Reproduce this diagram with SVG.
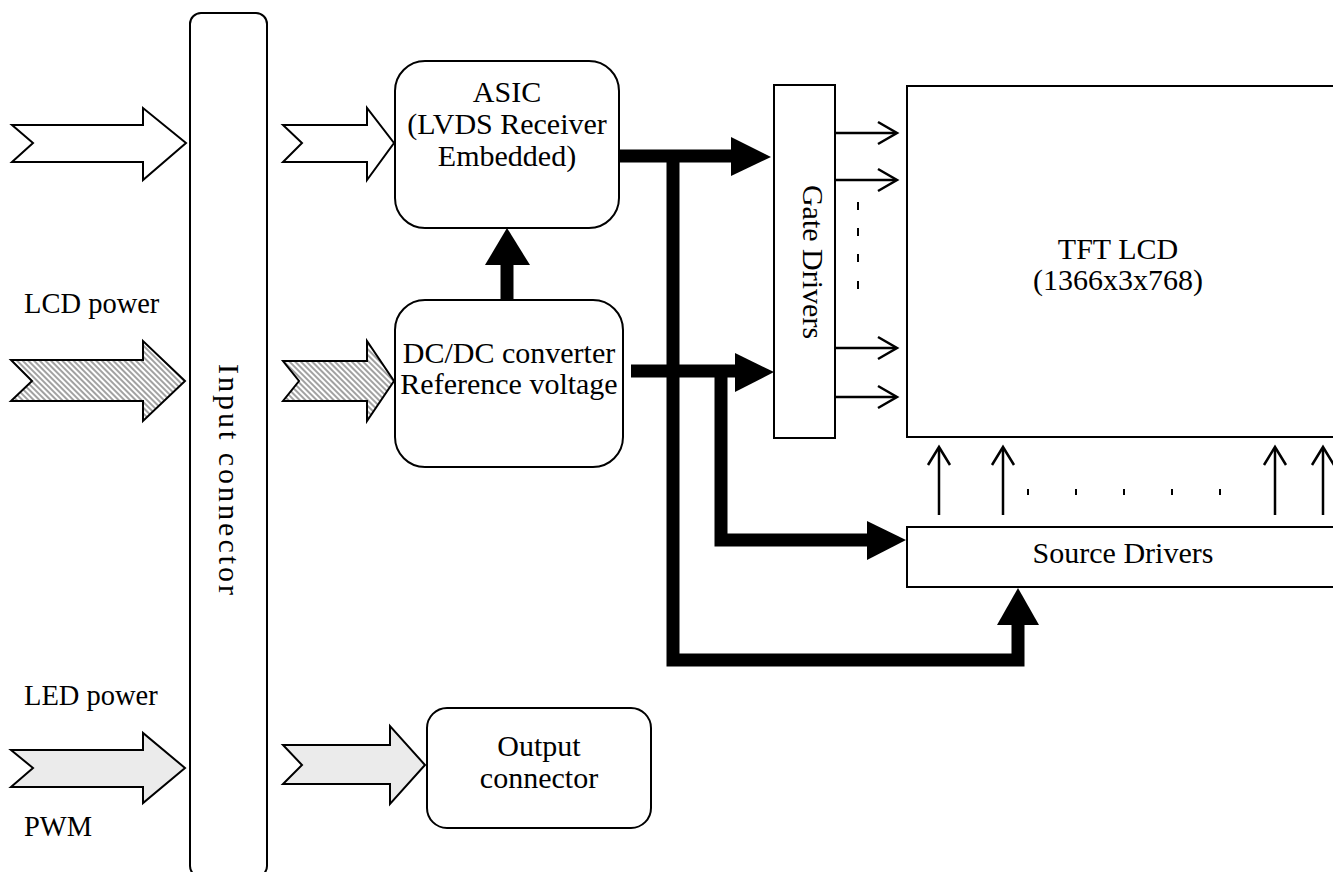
<svg xmlns="http://www.w3.org/2000/svg" width="1333" height="872" viewBox="0 0 1333 872">
<defs>
<pattern id="hatch" patternUnits="userSpaceOnUse" width="4" height="4" patternTransform="rotate(-45)">
<rect width="4" height="4" fill="#ffffff"/>
<line x1="1" y1="0" x2="1" y2="4" stroke="#444" stroke-width="1"/>
</pattern>
<style>
.box{fill:#fff;stroke:#000;stroke-width:2}
.t{font-family:"Liberation Serif","Times New Roman",serif;font-size:30px;fill:#000}
.lbl{font-size:28.5px}
.c{text-anchor:middle}
.hollow{fill:#fff;stroke:#000;stroke-width:2;stroke-linejoin:miter}
.hat{fill:url(#hatch);stroke:#000;stroke-width:2}
.led{fill:#ebebeb;stroke:#000;stroke-width:2}
.thick{fill:none;stroke:#000;stroke-width:13;stroke-linejoin:miter;stroke-linecap:butt}
.head{fill:#000}
.thin{fill:none;stroke:#000;stroke-width:2.5}
.tick{stroke:#000;stroke-width:2}
</style>
</defs>
<rect width="1333" height="872" fill="#fff"/>

<g id="input-connector">
<rect class="box" x="190" y="13" width="77" height="864" rx="11"/>
<text class="t c" transform="translate(219,481) rotate(90)" font-size="31" letter-spacing="3">Input connector</text>
</g>

<g id="labels">
<text class="t lbl" x="24" y="313">LCD power</text>
<text class="t lbl" x="24" y="705">LED power</text>
<text class="t lbl" x="24" y="836">PWM</text>
</g>

<g id="input-arrows">
<polygon class="hollow" points="12,125 143,125 143,108 186,143 143,180 143,162 12,162 33,143"/>
<polygon class="hollow" points="283,125 367,125 367,108 394,143 367,180 367,162 283,162 302,143"/>
<polygon class="hat" points="11,360 143,360 143,341 185,381 143,421 143,401 11,401 32,381"/>
<polygon class="hat" points="283,361 367,361 367,341 394,381 367,421 367,401 283,401 299,381"/>
<polygon class="led" points="11,750 143,750 143,733 185,768 143,803 143,787 11,787 33,768"/>
<polygon class="led" points="283,745 390,745 390,726 425,765 390,804 390,784 283,784 302,765"/>
</g>

<g id="asic">
<rect class="box" x="395" y="61" width="224" height="167" rx="30"/>
<text class="t c" x="507" y="102">ASIC</text>
<text class="t c" x="507" y="134">(LVDS Receiver</text>
<text class="t c" x="507" y="166">Embedded)</text>
</g>

<g id="dcdc">
<rect class="box" x="395" y="300" width="228" height="167" rx="30"/>
<text class="t c" x="509" y="363">DC/DC converter</text>
<text class="t c" x="509" y="394">Reference voltage</text>
</g>

<g id="output-connector">
<rect class="box" x="427" y="708" width="224" height="120" rx="20"/>
<text class="t c" x="539" y="756">Output</text>
<text class="t c" x="539" y="788">connector</text>
</g>

<g id="gate-drivers">
<rect class="box" x="774" y="85" width="61" height="353"/>
<text class="t c" transform="translate(803,262) rotate(90)">Gate Drivers</text>
</g>

<g id="tft-lcd">
<rect class="box" x="907" y="86" width="440" height="351"/>
<text class="t c" x="1118" y="259">TFT LCD</text>
<text class="t c" x="1118" y="290">(1366x3x768)</text>
</g>

<g id="source-drivers">
<rect class="box" x="907" y="527" width="440" height="60"/>
<text class="t c" x="1123" y="563">Source Drivers</text>
</g>

<g id="connectors">
<line class="thick" x1="507" y1="300" x2="507" y2="262"/>
<polygon class="head" points="485,265 507,228 530,265"/>

<line class="thick" x1="619" y1="156" x2="733" y2="156"/>
<polygon class="head" points="731,137 771,157 731,176"/>
<polyline class="thick" points="673,150 673,660 1018,660 1018,622"/>
<polygon class="head" points="997,625 1018,588 1039,625"/>

<line class="thick" x1="631" y1="371" x2="737" y2="371"/>
<polygon class="head" points="735,353 774,372 735,392"/>
<polyline class="thick" points="721,365 721,540 869,540"/>
<polygon class="head" points="867,521 906,540 867,560"/>

<g id="gate-lines">
<line class="thin" x1="835" y1="133" x2="896" y2="133"/>
<polyline class="thin" points="878,122 897,133 878,144"/>
<line class="thin" x1="835" y1="180" x2="896" y2="180"/>
<polyline class="thin" points="878,169 897,180 878,191"/>
<line class="thin" x1="835" y1="348" x2="896" y2="348"/>
<polyline class="thin" points="878,337 897,348 878,359"/>
<line class="thin" x1="835" y1="397" x2="896" y2="397"/>
<polyline class="thin" points="878,386 897,397 878,408"/>
<line class="tick" x1="858" y1="202" x2="858" y2="210"/>
<line class="tick" x1="858" y1="228" x2="858" y2="236"/>
<line class="tick" x1="858" y1="254" x2="858" y2="262"/>
<line class="tick" x1="858" y1="281" x2="858" y2="289"/>
</g>

<g id="source-lines">
<line class="thin" x1="939" y1="515" x2="939" y2="448"/>
<polyline class="thin" points="928,465 939,447 950,465"/>
<line class="thin" x1="1003" y1="515" x2="1003" y2="448"/>
<polyline class="thin" points="992,465 1003,447 1014,465"/>
<line class="thin" x1="1275" y1="515" x2="1275" y2="448"/>
<polyline class="thin" points="1264,465 1275,447 1286,465"/>
<line class="thin" x1="1323" y1="515" x2="1323" y2="448"/>
<polyline class="thin" points="1312,465 1323,447 1334,465"/>
<line class="tick" x1="1028" y1="489" x2="1028" y2="495"/>
<line class="tick" x1="1076" y1="489" x2="1076" y2="495"/>
<line class="tick" x1="1124" y1="489" x2="1124" y2="495"/>
<line class="tick" x1="1172" y1="489" x2="1172" y2="495"/>
<line class="tick" x1="1220" y1="489" x2="1220" y2="495"/>
</g>
</g>
</svg>
